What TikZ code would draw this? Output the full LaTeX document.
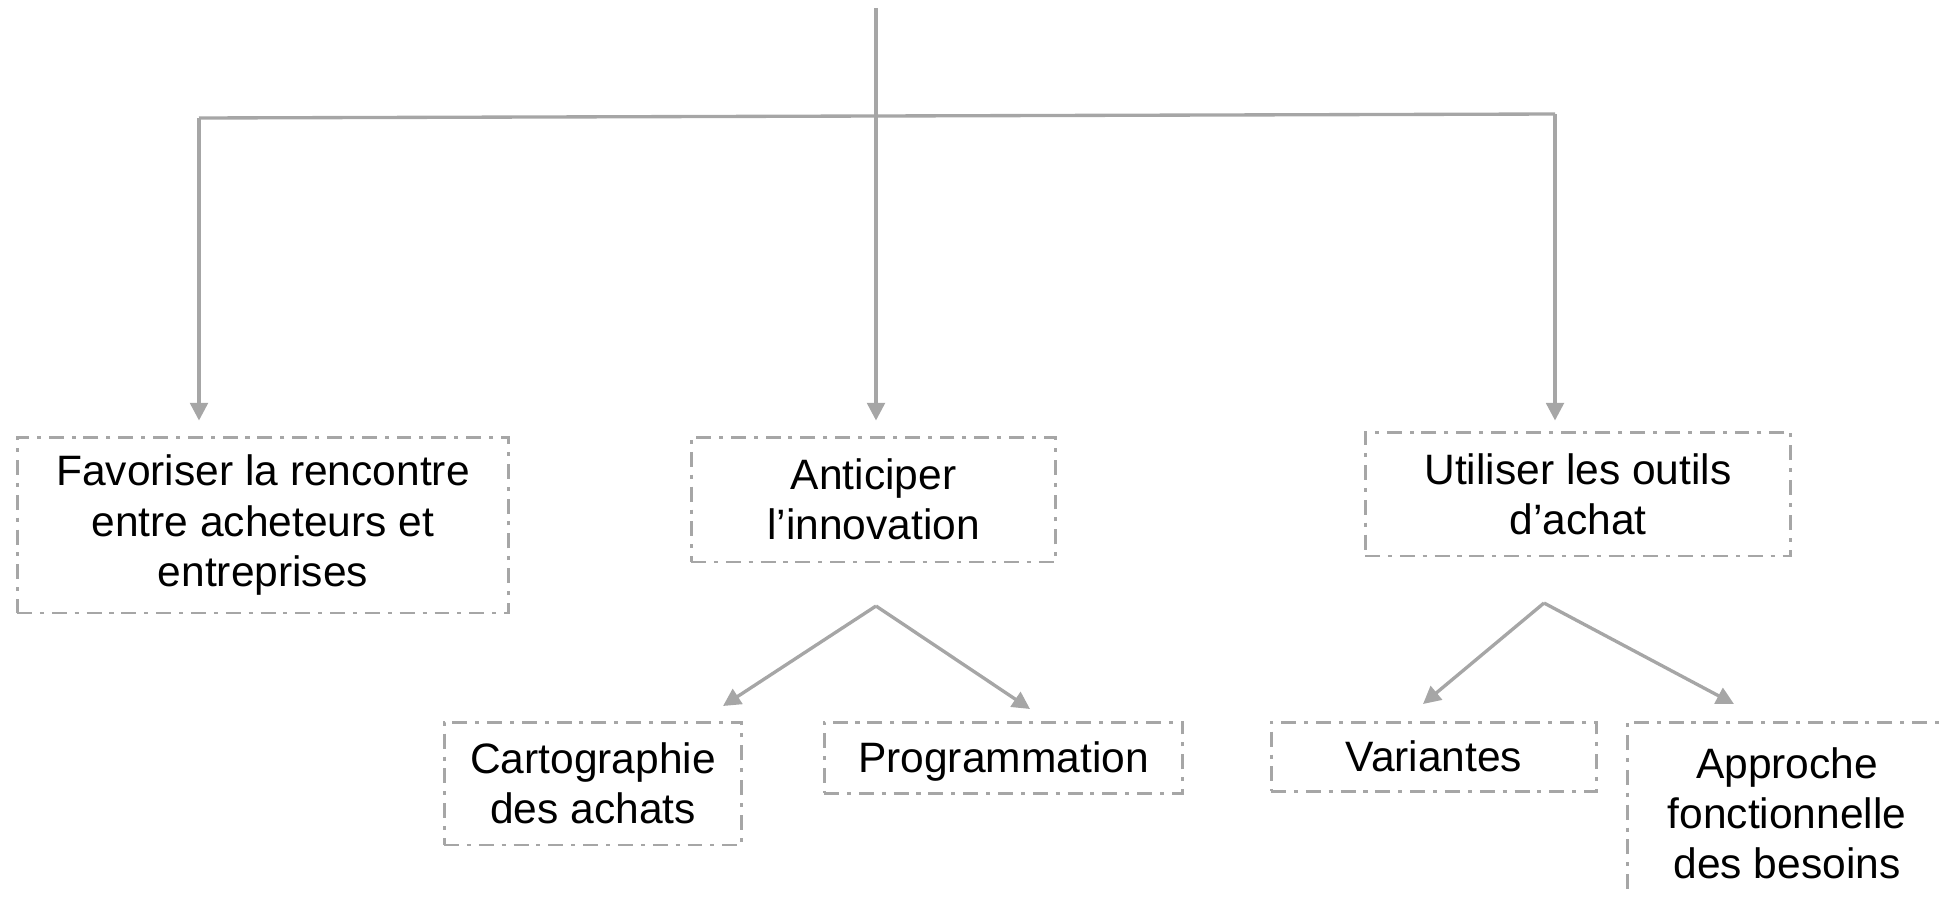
\documentclass[tikz,border=0pt]{standalone}
\usepackage{fontspec}
\setmainfont{Liberation Sans}
\usetikzlibrary{arrows.meta}
\definecolor{linegray}{RGB}{166,166,166}
\tikzset{
  goal/.style={draw=linegray, line width=1.7pt,
    dash pattern=on 8.5pt off 4.5pt on 2.3pt off 4.5pt,
    align=center, inner sep=0pt, font=\fontsize{24.2}{28.5}\selectfont},
  link/.style={draw=linegray, line width=1.9pt, -{Triangle[length=10pt,width=10pt]}},
}

\begin{document}
\begin{tikzpicture}[x=0.02cm,y=-0.02cm]
  \clip (0,0) rectangle (1946,896);
  % main goals
  \node[goal, minimum width=9.84cm, minimum height=3.52cm] (fav) at (263,525)
    {Favoriser la rencontre\\entre acheteurs et\\entreprises};
  \node[goal, minimum width=7.3cm, minimum height=2.5cm] (anti) at (873.5,499.5)
    {Anticiper\\l’innovation};
  \node[goal, minimum width=8.52cm, minimum height=2.48cm] (util) at (1578,494)
    {Utiliser les outils\\d’achat};
  % sub goals
  \node[goal, minimum width=5.96cm, minimum height=2.46cm] (carto) at (593,783.5)
    {Cartographie\\des achats};
  \node[goal, minimum width=7.18cm, minimum height=1.42cm, text depth=0pt] (prog) at (1003.5,757.5)
    {Programmation};
  \node[goal, minimum width=6.52cm, minimum height=1.38cm] (vari) at (1434,756.5)
    {Variantes};
  \node[goal, minimum width=6.4cm, minimum height=3.64cm] (appr) at (1787,813)
    {Approche\\fonctionnelle\\des besoins};

  % tree lines
  \coordinate (top) at (876,8);
  \coordinate (hl) at (199,118);
  \coordinate (hr) at (1555,114);
  \draw[linegray, line width=1.9pt] (hl) -- (hr);
  \draw[link, shorten >=0.3cm] (top) -- (top |- anti.north);
  \draw[link, shorten >=0.3cm] (hl) -- (hl |- fav.north);
  \draw[link, shorten >=0.2cm] (hr) -- (hr |- util.north);

  \coordinate (splitA) at (876,606);
  \coordinate (tipCarto) at (723,706);
  \coordinate (tipProg) at (1030,709);
  \draw[link] (splitA) -- (tipCarto);
  \draw[link] (splitA) -- (tipProg);

  \coordinate (splitU) at (1544,603);
  \coordinate (tipVari) at (1423,704);
  \coordinate (tipAppr) at (1734,704);
  \draw[link] (splitU) -- (tipVari);
  \draw[link] (splitU) -- (tipAppr);
\end{tikzpicture}
\end{document}
